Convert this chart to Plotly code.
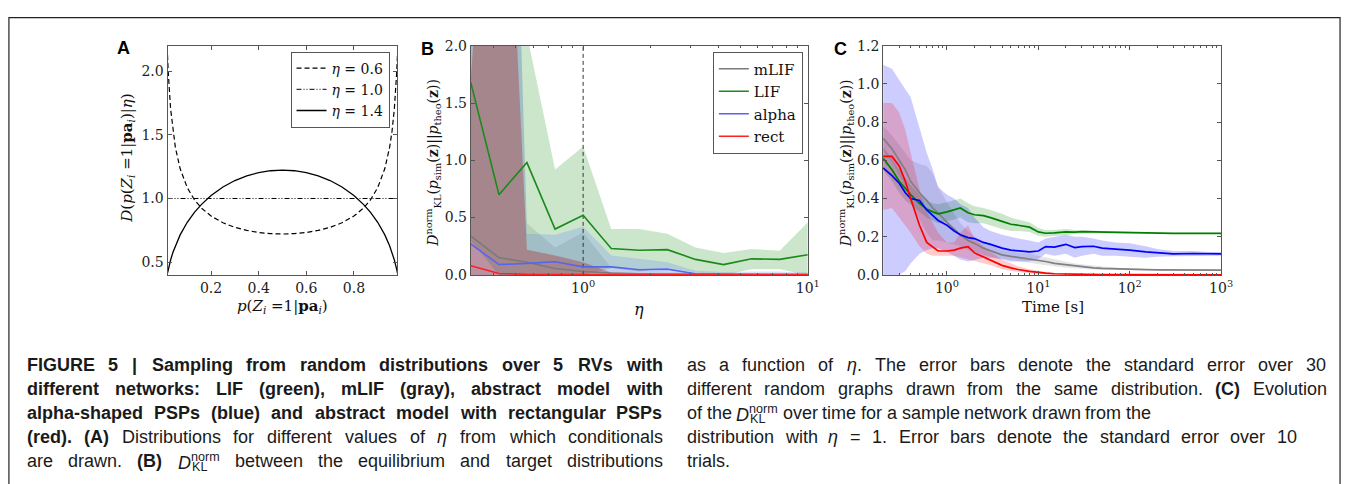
import re
import plotly.graph_objects as go

W, H = 1357, 484

# ---------------- Panel A data ----------------
p_vals = [0.017, 0.02, 0.03, 0.04, 0.05, 0.07, 0.1, 0.13, 0.16, 0.2, 0.25, 0.3, 0.35, 0.4, 0.45,
          0.5, 0.55, 0.6, 0.65, 0.7, 0.75, 0.8, 0.84, 0.87, 0.9, 0.93, 0.95, 0.96, 0.97, 0.98, 0.983]
d_eta06 = [2.127, 1.996, 1.704, 1.525, 1.401, 1.235, 1.085, 0.990, 0.924, 0.862, 0.809, 0.773, 0.749, 0.733, 0.724,
           0.721, 0.724, 0.733, 0.749, 0.773, 0.809, 0.862, 0.924, 0.990, 1.085, 1.235, 1.401, 1.525, 1.704, 1.996, 2.127]
d_eta14 = [0.414, 0.442, 0.517, 0.578, 0.629, 0.714, 0.813, 0.891, 0.954, 1.023, 1.090, 1.141, 1.178, 1.203, 1.218,
           1.223, 1.218, 1.203, 1.178, 1.141, 1.090, 1.023, 0.954, 0.891, 0.813, 0.714, 0.629, 0.578, 0.517, 0.442, 0.414]
p_flat = [0.017, 0.983]
d_eta10 = [1.0, 1.0]

# ---------------- Panel B data ----------------
eta = [0.316, 0.422, 0.562, 0.75, 1.0, 1.334, 1.778, 2.371, 3.162, 4.217, 5.623, 7.499, 10.0]
b_mlif = [0.34, 0.15, 0.11, 0.055, 0.03, 0.015, 0.01, 0.008, 0.005, 0.003, 0.003, 0.002, 0.002]
b_mlif_hi = [6.0, 8.0, 0.45, 0.24, 0.37, 0.06, 0.04, 0.03, 0.02, 0.01, 0.01, 0.01, 0.01]
b_mlif_lo = [0, 0, 0, 0, 0, 0, 0, 0, 0, 0, 0, 0, 0]
b_lif = [1.68, 0.70, 0.98, 0.40, 0.52, 0.23, 0.215, 0.22, 0.135, 0.09, 0.14, 0.135, 0.175]
b_lif_hi = [3.0, 3.5, 2.1, 0.92, 1.12, 0.40, 0.40, 0.36, 0.24, 0.19, 0.225, 0.21, 0.46]
b_lif_lo = [0.3, 0, 0, 0, 0, 0.06, 0.03, 0.06, 0.02, 0.0, 0.05, 0.05, 0.0]
b_alpha = [0.27, 0.09, 0.10, 0.115, 0.07, 0.07, 0.045, 0.05, 0.01, 0.005, 0.003, 0.003, 0.002]
b_alpha_hi = [6.0, 8.6, 0.36, 0.35, 0.42, 0.17, 0.14, 0.11, 0.035, 0.025, 0.03, 0.03, 0.02]
b_alpha_lo = [0, 0, 0, 0, 0, 0, 0, 0, 0, 0, 0, 0, 0]
b_rect = [0.08, 0.012, 0.005, 0.002, 0.001, 0.0005, 0.0, 0.0, 0.0, 0.0, 0.0, 0.0, 0.0]
b_rect_hi = [1.7, 5.3, 0.22, 0.17, 0.11, 0.02, 0.01, 0.005, 0.003, 0.002, 0.001, 0.001, 0.001]
b_rect_lo = [0, 0, 0, 0, 0, 0, 0, 0, 0, 0, 0, 0, 0]
eta_ref = 1.0

# ---------------- Panel C data ----------------
t = [0.2, 0.25, 0.3, 0.35, 0.4, 0.5, 0.6, 0.7, 0.8, 1.0, 1.2, 1.4, 1.7, 2.0, 2.5, 3, 4, 5, 6, 8,
     10, 12, 15, 20, 25, 30, 40, 50, 70, 100, 150, 200, 300, 500, 700, 1000]
c_lif = [0.61, 0.55, 0.49, 0.45, 0.42, 0.375, 0.345, 0.33, 0.32, 0.33, 0.34, 0.35, 0.325, 0.315, 0.31, 0.30, 0.28, 0.265, 0.26, 0.25,
         0.225, 0.218, 0.22, 0.225, 0.224, 0.226, 0.225, 0.224, 0.222, 0.22, 0.218, 0.218, 0.217, 0.217, 0.217, 0.217]
c_lif_hi = [0.67, 0.61, 0.55, 0.51, 0.47, 0.42, 0.39, 0.375, 0.37, 0.38, 0.39, 0.40, 0.375, 0.36, 0.35, 0.34, 0.32, 0.30, 0.29, 0.275,
            0.245, 0.235, 0.235, 0.24, 0.235, 0.235, 0.232, 0.23, 0.227, 0.225, 0.222, 0.221, 0.22, 0.22, 0.22, 0.22]
c_lif_lo = [0.55, 0.49, 0.43, 0.39, 0.37, 0.33, 0.30, 0.285, 0.27, 0.28, 0.29, 0.30, 0.275, 0.27, 0.27, 0.26, 0.24, 0.23, 0.23, 0.225,
            0.205, 0.20, 0.205, 0.21, 0.213, 0.217, 0.218, 0.218, 0.217, 0.215, 0.214, 0.215, 0.214, 0.214, 0.214, 0.214]
c_alpha = [0.56, 0.52, 0.48, 0.43, 0.40, 0.39, 0.34, 0.31, 0.285, 0.26, 0.23, 0.21, 0.195, 0.19, 0.17, 0.16, 0.14, 0.13, 0.125, 0.12,
           0.125, 0.148, 0.145, 0.16, 0.143, 0.148, 0.15, 0.14, 0.135, 0.13, 0.12, 0.115, 0.11, 0.112, 0.11, 0.11]
c_alpha_hi = [1.10, 1.08, 1.02, 0.97, 0.93, 0.77, 0.64, 0.55, 0.46, 0.42, 0.40, 0.37, 0.35, 0.30, 0.25, 0.23, 0.21, 0.20, 0.19, 0.18,
              0.17, 0.19, 0.20, 0.21, 0.20, 0.20, 0.19, 0.18, 0.17, 0.165, 0.15, 0.135, 0.125, 0.125, 0.12, 0.12]
c_alpha_lo = [0.0, 0.0, 0.0, 0.02, 0.06, 0.11, 0.13, 0.14, 0.14, 0.12, 0.10, 0.08, 0.07, 0.08, 0.09, 0.09, 0.08, 0.07, 0.07, 0.07,
              0.085, 0.11, 0.10, 0.11, 0.09, 0.10, 0.11, 0.10, 0.10, 0.095, 0.09, 0.095, 0.097, 0.10, 0.10, 0.10]
c_rect = [0.62, 0.62, 0.57, 0.49, 0.40, 0.26, 0.17, 0.145, 0.125, 0.125, 0.13, 0.14, 0.148, 0.115, 0.095, 0.08, 0.05, 0.037, 0.028, 0.018,
          0.012, 0.009, 0.006, 0.004, 0.003, 0.002, 0.002, 0.001, 0.001, 0.001, 0.0005, 0.0005, 0.0, 0.0, 0.0, 0.0]
c_rect_hi = [0.90, 0.90, 0.85, 0.76, 0.64, 0.45, 0.33, 0.27, 0.22, 0.17, 0.17, 0.22, 0.26, 0.19, 0.15, 0.12, 0.08, 0.06, 0.045, 0.03,
             0.02, 0.015, 0.01, 0.007, 0.005, 0.004, 0.003, 0.002, 0.002, 0.002, 0.001, 0.001, 0.001, 0.001, 0.001, 0.001]
c_rect_lo = [0.34, 0.35, 0.30, 0.26, 0.22, 0.15, 0.11, 0.10, 0.10, 0.10, 0.10, 0.09, 0.08, 0.07, 0.06, 0.05, 0.03, 0.02, 0.015, 0.008,
             0.005, 0.003, 0.002, 0.001, 0, 0, 0, 0, 0, 0, 0, 0, 0, 0, 0, 0]
c_mlif = [0.715, 0.66, 0.60, 0.55, 0.49, 0.43, 0.39, 0.35, 0.325, 0.275, 0.24, 0.21, 0.18, 0.165, 0.14, 0.125, 0.105, 0.097, 0.092, 0.085,
          0.078, 0.07, 0.06, 0.053, 0.047, 0.042, 0.037, 0.034, 0.031, 0.029, 0.027, 0.026, 0.025, 0.025, 0.025, 0.025]
c_mlif_hi = [0.78, 0.73, 0.68, 0.64, 0.60, 0.58, 0.57, 0.53, 0.46, 0.38, 0.32, 0.27, 0.23, 0.20, 0.175, 0.155, 0.13, 0.12, 0.115, 0.11,
             0.10, 0.09, 0.08, 0.07, 0.06, 0.055, 0.048, 0.042, 0.037, 0.034, 0.031, 0.029, 0.028, 0.027, 0.027, 0.027]
c_mlif_lo = [0.65, 0.59, 0.52, 0.46, 0.38, 0.29, 0.22, 0.18, 0.18, 0.17, 0.16, 0.15, 0.13, 0.12, 0.105, 0.095, 0.085, 0.08, 0.072, 0.063,
             0.056, 0.05, 0.045, 0.037, 0.034, 0.03, 0.028, 0.026, 0.025, 0.024, 0.023, 0.023, 0.022, 0.022, 0.022, 0.022]

# ---------------- caption text ----------------
DKL_WORD = "<i>D</i><sup>norm</sup><sub>KL</sub>"
cap_left = [
    "<b>FIGURE 5 | Sampling from random distributions over 5 RVs with</b>",
    "<b>different networks: LIF (green), mLIF (gray), abstract model with</b>",
    "<b>alpha-shaped PSPs (blue) and abstract model with rectangular PSPs</b>",
    "<b>(red). (A)</b> Distributions for different values of <i>η</i> from which conditionals",
    "are drawn. <b>(B)</b> " + DKL_WORD + " between the equilibrium and target distributions",
]
cap_right = [
    "as a function of <i>η</i>. The error bars denote the standard error over 30",
    "different random graphs drawn from the same distribution. <b>(C)</b> Evolution",
    "of the " + DKL_WORD + " over time for a sample network drawn from the",
    "distribution with <i>η</i> = 1. Error bars denote the standard error over 10",
    "trials.",
]

# ---------------- styling ----------------
SERIF = "DejaVu Serif"
SANS = "Liberation Sans"
AX = "#555555"
COL = {"mLIF": "gray", "LIF": "green", "alpha": "blue", "rect": "red"}
FILL = {"mLIF": "rgba(128,128,128,0.2)", "LIF": "rgba(0,128,0,0.2)",
        "alpha": "rgba(0,0,255,0.2)", "rect": "rgba(255,0,0,0.2)"}
FILL_B = {"mLIF": "rgba(128,128,128,0.2)", "LIF": "rgba(0,128,0,0.2)",
          "alpha": "rgba(70,110,255,0.2)", "rect": "rgba(170,20,20,0.33)"}
LINE_B = {"mLIF": "#7a7a7a", "LIF": "#1a8a1a", "alpha": "#5566ee", "rect": "#ff2020"}

fig = go.Figure()

# Panel A
fig.add_trace(go.Scatter(x=p_vals, y=d_eta06, mode="lines", line=dict(color="black", width=1.2, dash="5px,3px"),
                         name="<i>η</i> = 0.6", xaxis="x", yaxis="y", legend="legend"))
fig.add_trace(go.Scatter(x=p_flat, y=d_eta10, mode="lines", line=dict(color="black", width=1, dash="5px,2px,1px,2px,1px,2px"),
                         name="<i>η</i> = 1.0", xaxis="x", yaxis="y", legend="legend"))
fig.add_trace(go.Scatter(x=p_vals, y=d_eta14, mode="lines", line=dict(color="black", width=1.3),
                         name="<i>η</i> = 1.4", xaxis="x", yaxis="y", legend="legend"))

# Panel B
b_series = [("mLIF", b_mlif, b_mlif_hi, b_mlif_lo), ("LIF", b_lif, b_lif_hi, b_lif_lo),
            ("alpha", b_alpha, b_alpha_hi, b_alpha_lo), ("rect", b_rect, b_rect_hi, b_rect_lo)]
for name, m, hi, lo in b_series:
    fig.add_trace(go.Scatter(x=eta + eta[::-1], y=hi + lo[::-1], mode="lines", fill="toself",
                             fillcolor=FILL_B[name], line=dict(width=0), hoverinfo="skip",
                             showlegend=False, xaxis="x2", yaxis="y2"))
fig.add_trace(go.Scatter(x=[eta_ref, eta_ref], y=[0, 2], mode="lines", line=dict(color="#333", width=1, dash="4px,3px"),
                         showlegend=False, xaxis="x2", yaxis="y2"))
for name, m, hi, lo in b_series:
    fig.add_trace(go.Scatter(x=eta, y=m, mode="lines", line=dict(color=LINE_B[name], width=1.6),
                             name=name, xaxis="x2", yaxis="y2", legend="legend2"))

# Panel C
c_series = [("mLIF", c_mlif, c_mlif_hi, c_mlif_lo), ("LIF", c_lif, c_lif_hi, c_lif_lo),
            ("alpha", c_alpha, c_alpha_hi, c_alpha_lo), ("rect", c_rect, c_rect_hi, c_rect_lo)]
for name, m, hi, lo in c_series:
    fig.add_trace(go.Scatter(x=t + t[::-1], y=hi + lo[::-1], mode="lines", fill="toself",
                             fillcolor=FILL[name], line=dict(width=0), hoverinfo="skip",
                             showlegend=False, xaxis="x3", yaxis="y3"))
for name, m, hi, lo in c_series:
    fig.add_trace(go.Scatter(x=t, y=m, mode="lines", line=dict(color=COL[name], width=1.7),
                             showlegend=False, xaxis="x3", yaxis="y3"))


def ax(**kw):
    d = dict(showline=True, linecolor=AX, linewidth=1, mirror="allticks", ticks="inside", ticklen=4,
             tickcolor=AX, showgrid=False, zeroline=False,
             tickfont=dict(family=SERIF, size=14, color="#222"))
    d.update(kw)
    return d


ya = [1 - 276 / H, 1 - 39 / H]
log_minor_b = [0.4, 0.5, 0.6, 0.7, 0.8, 0.9, 2, 3, 4, 5, 6, 7, 8, 9]
log_minor_c = [0.3, 0.4, 0.5, 0.6, 0.7, 0.8, 0.9, 2, 3, 4, 5, 6, 7, 8, 9, 20, 30, 40, 50, 60, 70, 80, 90,
               200, 300, 400, 500, 600, 700, 800, 900]

fig.update_layout(
    width=W, height=H, autosize=False, margin=dict(l=0, r=0, t=0, b=0),
    paper_bgcolor="white", plot_bgcolor="white",
    xaxis=ax(domain=[169 / W, 401 / W], range=[0.017, 0.983], anchor="y",
             tickvals=[0.2, 0.4, 0.6, 0.8], ticktext=["0.2", "0.4", "0.6", "0.8"]),
    yaxis=ax(domain=ya, range=[0.4, 2.2], anchor="x",
             tickvals=[0.5, 1.0, 1.5, 2.0], ticktext=["0.5", "1.0", "1.5", "2.0"]),
    xaxis2=ax(domain=[475 / W, 815 / W], type="log", range=[-0.5, 1.0], anchor="y2",
              tickvals=[1, 10], ticktext=["10<sup>0</sup>", "10<sup>1</sup>"],
              minor=dict(tickmode="array", tickvals=log_minor_b, ticks="inside", ticklen=2, tickcolor=AX)),
    yaxis2=ax(domain=ya, range=[0, 2.0], anchor="x2",
              tickvals=[0, 0.5, 1.0, 1.5, 2.0], ticktext=["0.0", "0.5", "1.0", "1.5", "2.0"]),
    xaxis3=ax(domain=[891 / W, 1232 / W], type="log", range=[-0.699, 3.0], anchor="y3",
              tickvals=[1, 10, 100, 1000], ticktext=["10<sup>0</sup>", "10<sup>1</sup>", "10<sup>2</sup>", "10<sup>3</sup>"],
              minor=dict(tickmode="array", tickvals=log_minor_c, ticks="inside", ticklen=2, tickcolor=AX)),
    yaxis3=ax(domain=ya, range=[0, 1.2], anchor="x3",
              tickvals=[0, 0.2, 0.4, 0.6, 0.8, 1.0, 1.2], ticktext=["0.0", "0.2", "0.4", "0.6", "0.8", "1.0", "1.2"]),
    legend=dict(x=393 / W, xanchor="right", y=1 - 45 / H, yanchor="top", bordercolor=AX, borderwidth=1,
                bgcolor="white", font=dict(family=SERIF, size=14, color="#111"), tracegroupgap=0),
    legend2=dict(x=810 / W, xanchor="right", y=1 - 45 / H, yanchor="top", bordercolor=AX, borderwidth=1,
                 bgcolor="white", font=dict(family=SERIF, size=15, color="#111"), tracegroupgap=0),
    showlegend=True,
)

ann = []


def text(x, y, s, size=14, family=SERIF, angle=0, xanchor="center", yanchor="middle", color="#111"):
    ann.append(dict(xref="paper", yref="paper", x=x / W, y=1 - y / H, text=s, showarrow=False,
                    textangle=angle, xanchor=xanchor, yanchor=yanchor, borderpad=0,
                    font=dict(family=family, size=size, color=color)))


# panel letters
text(125, 41, "<b>A</b>", size=18, family=SANS, color="black")
text(431, 42, "<b>B</b>", size=18, family=SANS, color="black")
text(848, 42, "<b>C</b>", size=18, family=SANS, color="black")

# axis titles
text(285, 309, "<i>p</i>(<i>Z<sub>i</sub></i> =1|<b>pa</b><i><sub>i</sub></i>)", size=15)
text(645, 312, "<i>η</i>", size=16)
text(1062, 309, "Time [s]", size=15)
text(129, 155, "<i>D</i>(<i>p</i>(<i>Z<sub>i</sub></i> =1|<b>pa</b><i><sub>i</sub></i>)|<i>η</i>)", size=15, angle=-90)
dkl = "<i>D</i><sup>norm</sup><sub>KL</sub>(<i>p</i><sub>sim</sub>(<b>z</b>)||<i>p</i><sub>theo</sub>(<b>z</b>))"
text(437, 160, dkl, size=14, angle=-90)
text(853, 160, dkl, size=14, angle=-90)

# ---------------- justified caption (Arial/Liberation Sans metrics, 1/1000 em) ----------------
REG = dict(zip(" ()|,-.:=0123456789", [278, 333, 333, 260, 278, 333, 278, 278, 584] + [556] * 10))
REG.update(dict(zip("ABCDEFGHIJKLMNOPQRSTUVWXYZ",
                    [667, 667, 722, 722, 667, 611, 778, 722, 278, 500, 667, 556, 833, 722, 778, 667, 778, 722, 667, 611,
                     722, 667, 944, 667, 667, 611])))
REG.update(dict(zip("abcdefghijklmnopqrstuvwxyz",
                    [556, 556, 500, 556, 556, 278, 556, 556, 222, 222, 500, 222, 833, 556, 556, 556, 556, 333, 500, 278,
                     556, 500, 722, 500, 500, 500])))
REG["η"] = 556
BOLD = dict(zip(" ()|,-.:=0123456789", [278, 333, 333, 280, 278, 333, 278, 333, 584] + [556] * 10))
BOLD.update(dict(zip("ABCDEFGHIJKLMNOPQRSTUVWXYZ",
                     [722, 722, 722, 722, 667, 611, 778, 722, 278, 556, 722, 611, 833, 722, 778, 667, 778, 722, 667, 611,
                      722, 667, 944, 667, 667, 611])))
BOLD.update(dict(zip("abcdefghijklmnopqrstuvwxyz",
                     [556, 611, 556, 611, 556, 333, 611, 611, 278, 278, 556, 278, 889, 611, 611, 611, 611, 389, 556, 333,
                      611, 556, 778, 556, 556, 500])))
TAG = re.compile(r"<(/?)(b|i|sup|sub)>")


def split_words(line):
    words, state = [], []
    for raw in line.split(" "):
        prefix = "".join("<%s>" % s for s in state)
        for m in TAG.finditer(raw):
            if m.group(1):
                state.remove(m.group(2))
            else:
                state.append(m.group(2))
        suffix = "".join("</%s>" % s for s in reversed(state))
        words.append(prefix + raw + suffix)
    return words


def word_width(markup, size):
    w, bold, small = 0.0, 0, 0
    for tok in re.split(r"(<[^>]+>)", markup):
        m = TAG.fullmatch(tok)
        if m:
            d = -1 if m.group(1) else 1
            if m.group(2) == "b":
                bold += d
            elif m.group(2) in ("sup", "sub"):
                small += d
            continue
        table = BOLD if bold > 0 else REG
        w += sum(table.get(c, 556) for c in tok) * (0.7 if small > 0 else 1.0)
    return w * size / 1000.0


CAP_SIZE = 18


def place_line(line, x0, y, target):
    words = split_words(line)
    shown = []
    for wd in words:
        shown.append("<i>D</i><sup>norm</sup>" if wd == DKL_WORD else wd)
    widths = [word_width(wd, CAP_SIZE) for wd in shown]
    if target is None or len(words) == 1:
        gap = 278 * CAP_SIZE / 1000.0
    else:
        gap = (target - sum(widths)) / (len(words) - 1)
    x = x0
    for wd, sh, wdt in zip(words, shown, widths):
        text(x, y, sh, size=CAP_SIZE, family=SANS, xanchor="left", color="#1a1a1a")
        if wd == DKL_WORD:
            # stacked subscript under "norm"
            text(x + word_width("<i>D</i>", CAP_SIZE) + 1, y + 6, "KL", size=CAP_SIZE * 0.7,
                 family=SANS, xanchor="left", color="#1a1a1a")
        x += wdt + gap


left_targets = [641, 641, 641, 641, 641]
right_targets = [645, 645, None, 615, None]
for i, s in enumerate(cap_left):
    place_line(s, 26, 369 + 25 * i, left_targets[i])
for i, s in enumerate(cap_right):
    place_line(s, 692, 369 + 25 * i, right_targets[i])

fig.update_layout(annotations=ann)

# outer frame
fig.add_shape(type="rect", xref="paper", yref="paper", x0=9 / W, x1=1352 / W, y0=-0.2, y1=1 - 10 / H,
              line=dict(color="#222", width=1.2), fillcolor="rgba(0,0,0,0)", layer="above")

fig.write_html("out.html", config={"displayModeBar": False},
               post_script="document.body.style.margin='0px';")
